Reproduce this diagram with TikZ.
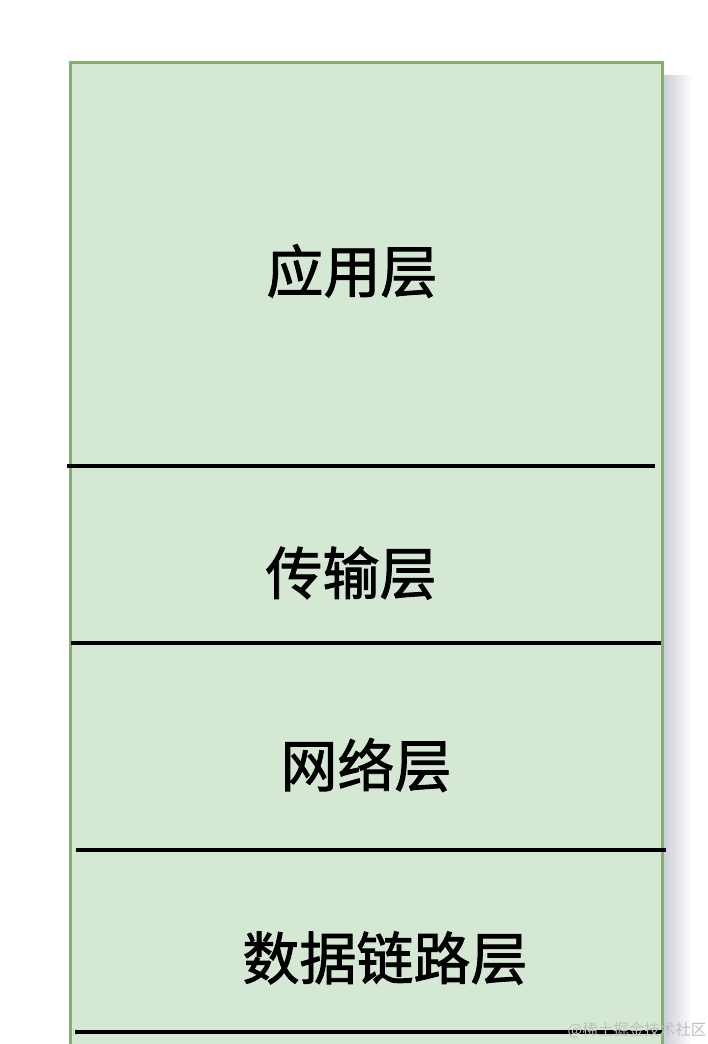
\documentclass[tikz,border=0pt]{standalone}
\usepackage{fontspec}
\newfontfamily\cjk{Noto Sans CJK SC}[FakeBold=1.6]
\newfontfamily\cjkwm{Noto Sans CJK SC}
\definecolor{boxfill}{HTML}{D5E8D4}
\definecolor{boxdraw}{HTML}{82B366}
\definecolor{shadowc}{HTML}{C9CAD6}
\begin{document}
\begin{tikzpicture}[x=1pt,y=-1pt,
  layerline/.style={line width=4.5pt,black},
  layertext/.style={font=\cjk\fontsize{57}{60}\selectfont,inner sep=0pt,anchor=center},
  wmark/.style={font=\cjkwm\fontsize{15.5}{16}\selectfont,inner sep=0pt}]
\useasboundingbox (0,0) rectangle (708,1044);
\fill[white] (0,0) rectangle (708,1044);
% shadow
\shade[left color=shadowc,right color=white] (662,75) rectangle (692,1044);
% main box
\filldraw[fill=boxfill,draw=boxdraw,line width=3pt] (70,62) rectangle (662,1060);
% separating lines
\coordinate (l1a) at (67,466);  \coordinate (l1b) at (655,466);
\coordinate (l2a) at (71,643);  \coordinate (l2b) at (661,643);
\coordinate (l3a) at (76,850);  \coordinate (l3b) at (666,850);
\coordinate (l4a) at (75,1032); \coordinate (l4b) at (662,1032);
\draw[layerline] (l1a) -- (l1b);
\draw[layerline] (l2a) -- (l2b);
\draw[layerline] (l3a) -- (l3b);
\draw[layerline] (l4a) -- (l4b);
% labels
\node[layertext] (app) at (352,271) {应用层};
\node[layertext] (trans) at (351,573) {传输层};
\node[layertext] (net) at (366,765) {网络层};
\node[layertext] (link) at (385,958) {数据链路层};
% watermark
\node[wmark,text=gray!50] (wm) at (637,1030) {@稀土掘金技术社区};
\end{tikzpicture}
\end{document}
